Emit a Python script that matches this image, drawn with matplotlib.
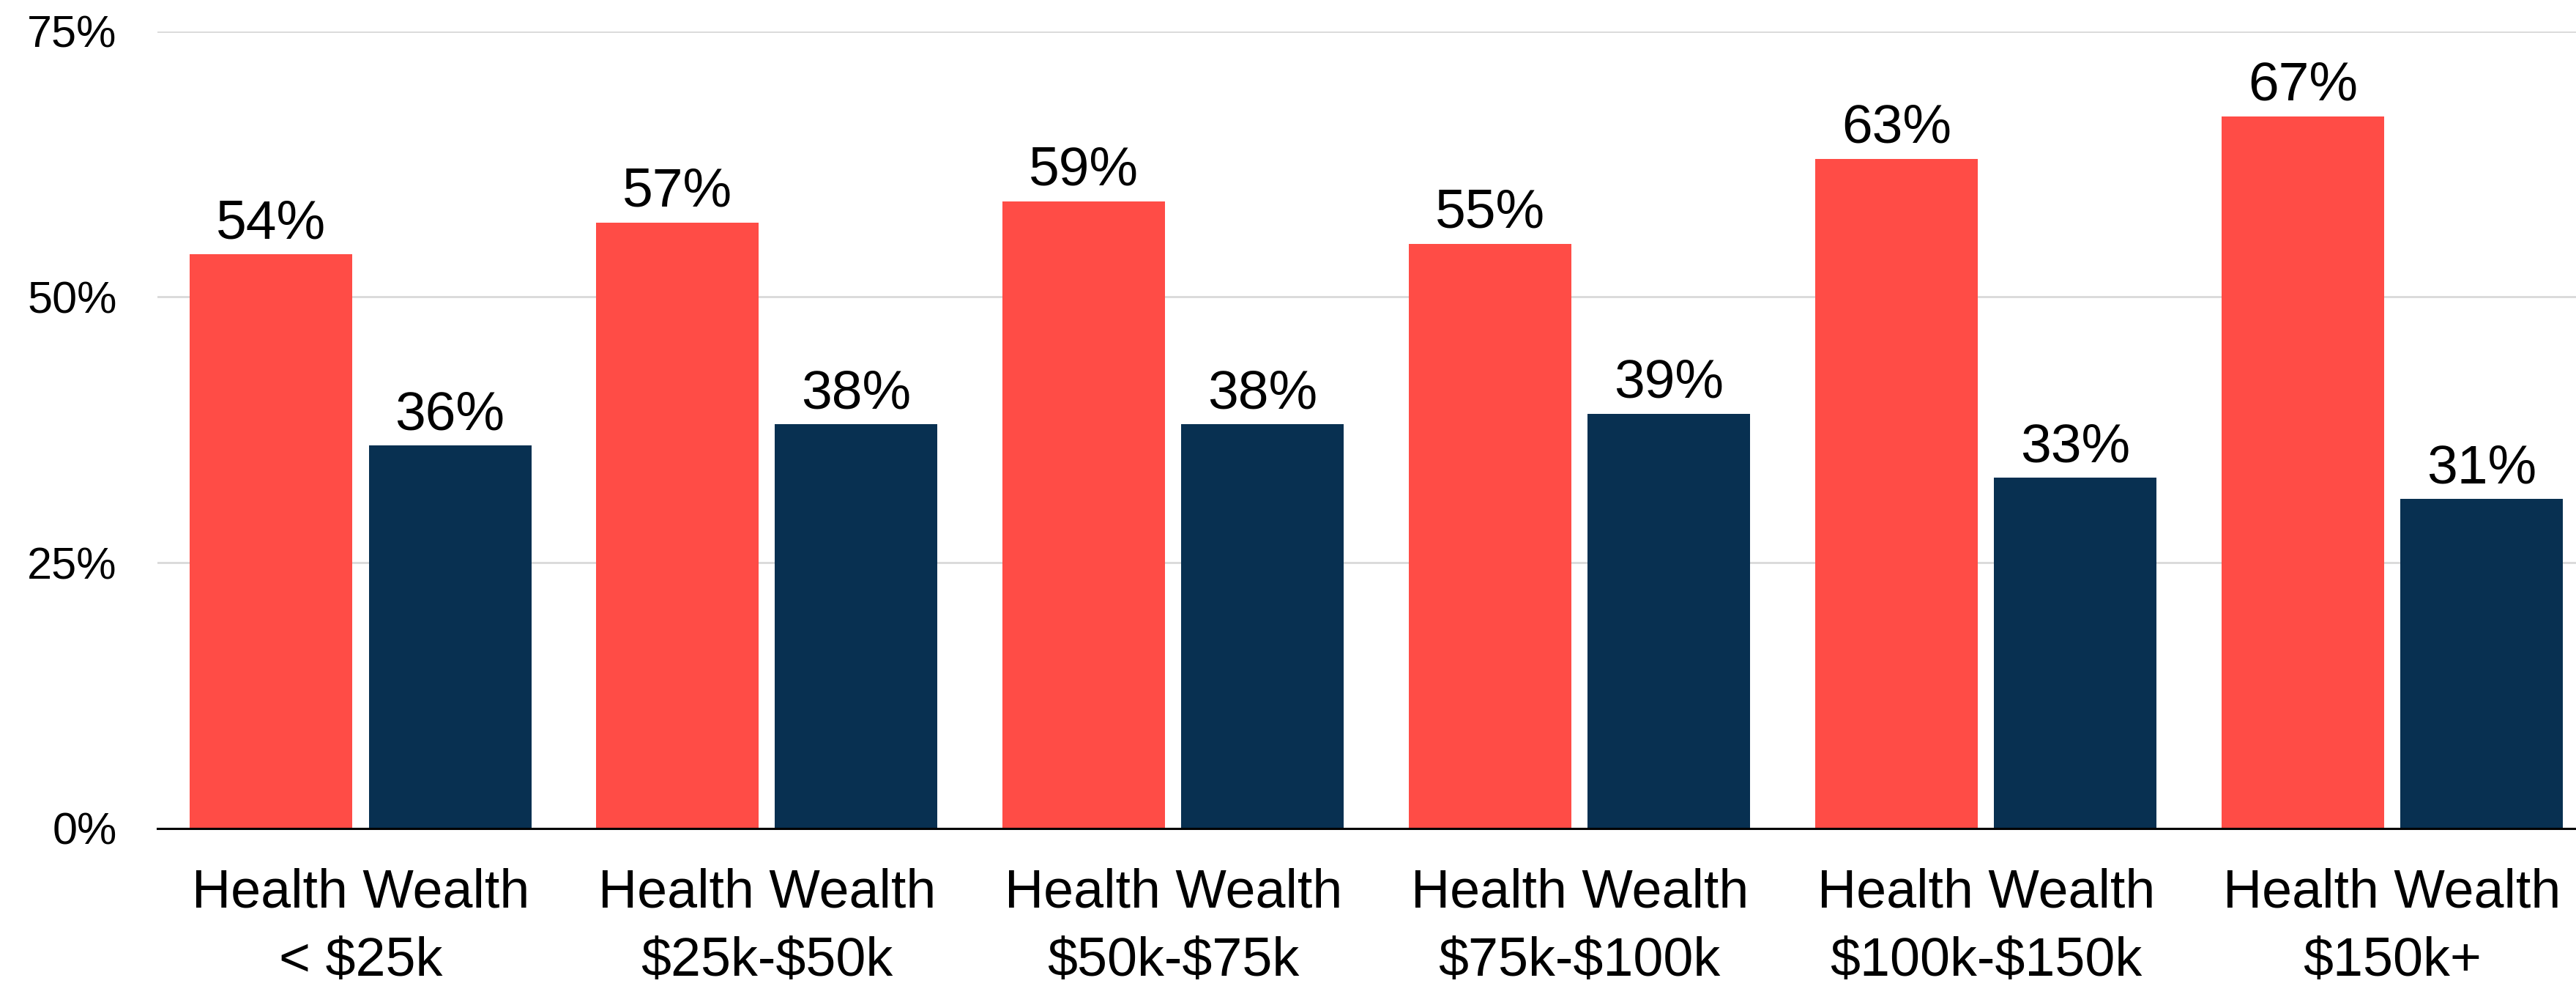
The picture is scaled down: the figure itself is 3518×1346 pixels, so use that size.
import matplotlib
matplotlib.use("Agg")
import matplotlib.pyplot as plt
import numpy as np

plt.rcParams["font.family"] = ["Liberation Sans", "DejaVu Sans"]
plt.rcParams["text.parse_math"] = False

# Income brackets and the share of respondents choosing each option
brackets = ["< $25k", "$25k-$50k", "$50k-$75k", "$75k-$100k", "$100k-$150k", "$150k+"]
health = [54, 57, 59, 55, 63, 67]
wealth = [36, 38, 38, 39, 33, 31]
y_ticks = [0, 25, 50, 75]

RED = "#FF4C46"
NAVY = "#083051"

W, H, DPI = 3518, 1346, 200
fig = plt.figure(figsize=(W / DPI, H / DPI), dpi=DPI)
fig.patch.set_facecolor("white")

left_px, right_px = 215, 3544.5
bottom_px, top_px = 1130.7, 42.7
ax = fig.add_axes([left_px / W, 1 - bottom_px / H,
                   (right_px - left_px) / W, (bottom_px - top_px) / H])

x = np.arange(len(brackets))
bw = 0.40
off = 0.22
b1 = ax.bar(x - off, health, width=bw, color=RED, zorder=2)
b2 = ax.bar(x + off, wealth, width=bw, color=NAVY, zorder=2)

for bars, vals in ((b1, health), (b2, wealth)):
    for rect, v in zip(bars, vals):
        ax.annotate(f"{v}%", (rect.get_x() + rect.get_width() / 2, v),
                    xytext=(0, 7.9), textcoords="offset points",
                    ha="center", va="baseline", fontsize=27, color="black")

ax.set_xlim(-0.5, len(brackets) - 0.5)
ax.set_ylim(0, 75)
ax.set_yticks(y_ticks)
ax.set_yticklabels([f"{t}%" for t in y_ticks], fontsize=22)
ax.set_xticks(x)
ax.set_xticklabels([f"Health Wealth\n{b}" for b in brackets], fontsize=26.5,
                   linespacing=1.45)
ax.tick_params(axis="both", length=0, colors="black")
ax.tick_params(axis="y", pad=20)
ax.tick_params(axis="x", pad=19.5)

ax.grid(axis="y", color="#D9D9D9", linewidth=1.0, zorder=0)
ax.set_axisbelow(True)
for s in ("top", "right", "left"):
    ax.spines[s].set_visible(False)
ax.spines["bottom"].set_color("black")
ax.spines["bottom"].set_linewidth(1.1)
ax.spines["bottom"].set_zorder(3)

fig.savefig("out.png", dpi=DPI, facecolor="white")
